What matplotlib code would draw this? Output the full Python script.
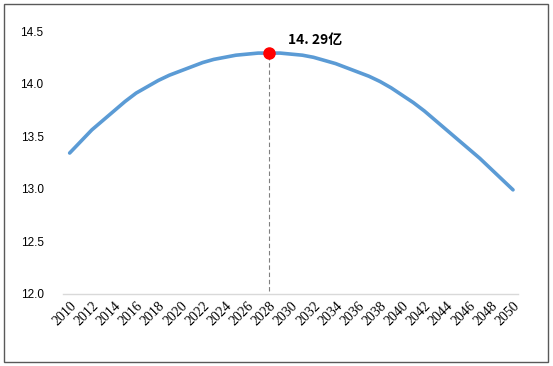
import matplotlib.pyplot as plt
import numpy as np
from matplotlib.patches import Rectangle

# 人口预测（亿）
years = list(range(2010, 2051))
pop = [13.34, 13.45, 13.56, 13.65, 13.74, 13.83, 13.91, 13.97, 14.03, 14.08,
       14.12, 14.16, 14.20, 14.23, 14.25, 14.27, 14.28, 14.29, 14.29, 14.29,
       14.28, 14.27, 14.25, 14.22, 14.19, 14.15, 14.11, 14.07, 14.02, 13.96,
       13.89, 13.82, 13.74, 13.65, 13.56, 13.47, 13.38, 13.29, 13.19, 13.09,
       12.99]
peak_year = 2028
peak_val = 14.29
peak_label = "14. 29亿"
xticks = list(range(2010, 2051, 2))
yticks = [12.0, 12.5, 13.0, 13.5, 14.0, 14.5]

fig = plt.figure(figsize=(5.53, 3.66), dpi=100)
ax = fig.add_axes([63/553, 1-294/366, 455/553, 263/366])

ax.plot(years, pop, color="#5B9BD5", lw=2.6, solid_capstyle="round", zorder=3)
ax.plot([peak_year], [peak_val], "o", color="#FF0000", ms=8, zorder=4)
ax.vlines(peak_year, 12.03, peak_val, colors="#808080", linestyles=(0, (4, 2.5)), lw=0.8, zorder=2)
ax.text(peak_year + 1.7, peak_val + 0.12, peak_label, fontsize=10, fontweight="semibold",
        family=["Noto Sans CJK SC", "DejaVu Sans"], va="center", ha="left")

ax.set_xlim(2009.4, 2050.45)
ax.set_ylim(12.0, 14.5)
ax.set_xticks(xticks)
ax.set_xticklabels([str(y) for y in xticks], rotation=45, ha="right", rotation_mode="anchor",
                   family="Liberation Serif", fontsize=10)
ax.set_yticks(yticks)
ax.set_yticklabels(["%.1f" % v for v in yticks], family="Liberation Sans", fontsize=8.5)
ax.tick_params(axis="both", length=0)
ax.tick_params(axis="y", pad=14)
ax.tick_params(axis="x", pad=4)

for s in ["top", "right", "left"]:
    ax.spines[s].set_visible(False)
ax.spines["bottom"].set_color("#D9D9D9")
ax.spines["bottom"].set_linewidth(1.0)

fig.patches.append(Rectangle((4/553, 4/366), 544/553, 358/366, transform=fig.transFigure,
                             fill=False, edgecolor="#595959", lw=1.0))

fig.savefig("out.png", dpi=100)
